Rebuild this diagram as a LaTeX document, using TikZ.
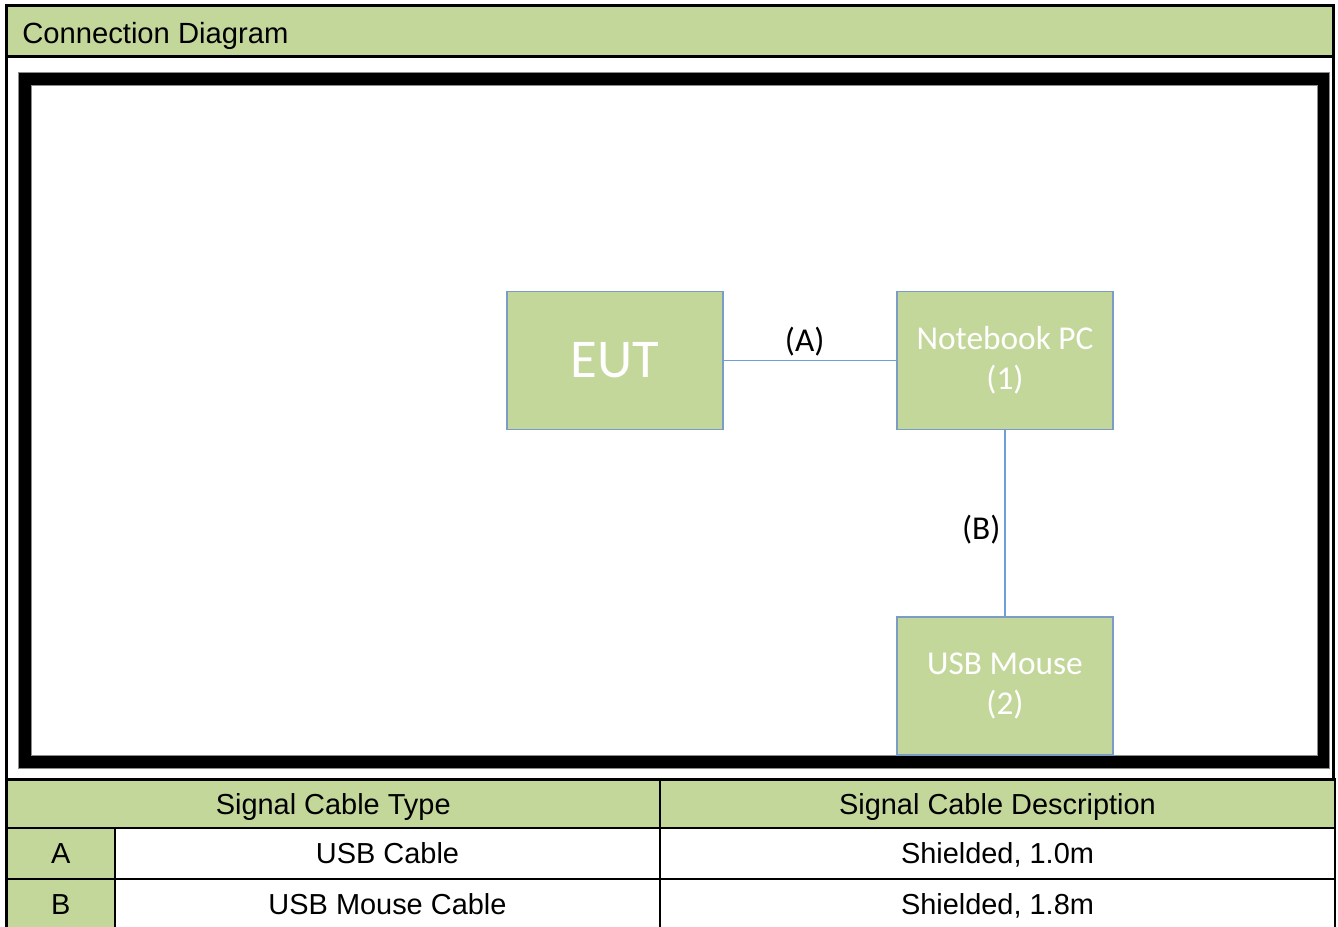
\documentclass[tikz,border=0pt]{standalone}
\usepackage{fontspec}
\usepackage{tikz}
\usetikzlibrary{positioning}
\setmainfont{Liberation Sans}
\newfontfamily\calibrifont{Carlito}
\definecolor{SheetGreen}{HTML}{C4D79B}
\definecolor{SheetEdge}{HTML}{7A9CC6}
\definecolor{SheetWire}{HTML}{6F9FD8}
\definecolor{SheetFrame}{HTML}{8C8C8C}
\tikzset{
  unitbox/.style={draw=SheetEdge,fill=SheetGreen,line width=0.8pt,
    minimum width=162pt,minimum height=104pt,inner sep=2pt,
    align=center,text=white,font=\calibrifont\fontsize{25}{30}\selectfont},
  wire/.style={draw=SheetWire,line width=0.9pt},
  wirelabel/.style={inner sep=1pt,text=black,
    font=\calibrifont\fontsize{25}{30}\selectfont},
  cell/.style={draw=black,line width=1.6pt,inner sep=0pt,outer sep=0pt,
    anchor=north west,text height=1.55em,text depth=0pt,
    font=\fontsize{21.7}{26}\selectfont},
  headcell/.style={cell,fill=SheetGreen}
}

\begin{document}
\begin{tikzpicture}[x=0.75pt,y=-0.75pt]
    \useasboundingbox (0,0) rectangle (1338,926);

    % sheet border and title band
    \draw[line width=2.25pt] (6.5,5.5) rectangle (1333.5,779.5);
    \draw[line width=2.25pt,fill=SheetGreen] (6.5,5.5) rectangle (1333.5,56);
    \node[anchor=base west,inner sep=0pt,font=\fontsize{21.9}{26}\selectfont] (title) at (22,43) {Connection Diagram};

    % thick frame round the set-up
    \fill[black] (18,72) rectangle (1329,768);
    \draw[SheetFrame,line width=0.6pt] (18,72) rectangle (1329,768);
    \draw[SheetFrame,line width=0.6pt,fill=white] (31,85) rectangle (1317,755);

    \node[unitbox,font=\calibrifont\fontsize{41}{48}\selectfont] (eut) at (615,360.5) {EUT};
    \node[unitbox] (pc) at (1005,360.5) {Notebook PC\\(1)};
    \node[unitbox,minimum height=103.5pt] (mouse) at (1005,686) {USB Mouse\\(2)};

    \draw[wire] (eut.east) -- node[wirelabel,midway,above=2pt,xshift=-4pt] (labA) {(A)} (pc.west);
    \draw[wire] (pc.south) -- node[wirelabel,midway,left=2pt,yshift=-5pt] (labB) {(B)} (mouse.north);

    % cable table
    \node[headcell,minimum width=490.1pt,minimum height=36.4pt] (typehead) at (6.5,779.5) {Signal Cable Type};
    \node[headcell,minimum width=506.3pt,minimum height=36.4pt] (deschead) at (typehead.north east) {Signal Cable Description};

    \node[headcell,minimum width=81.4pt,minimum height=37.9pt] (keyA) at (typehead.south west) {A};
    \node[cell,minimum width=408.7pt,minimum height=37.9pt] (typeA) at (keyA.north east) {USB Cable};
    \node[cell,minimum width=506.3pt,minimum height=37.9pt] (descA) at (typeA.north east) {Shielded, 1.0m};

    \node[headcell,minimum width=81.4pt,minimum height=38.6pt] (keyB) at (keyA.south west) {B};
    \node[cell,minimum width=408.7pt,minimum height=38.6pt] (typeB) at (keyB.north east) {USB Mouse Cable};
    \node[cell,minimum width=506.3pt,minimum height=38.6pt] (descB) at (typeB.north east) {Shielded, 1.8m};
\end{tikzpicture}
\end{document}
